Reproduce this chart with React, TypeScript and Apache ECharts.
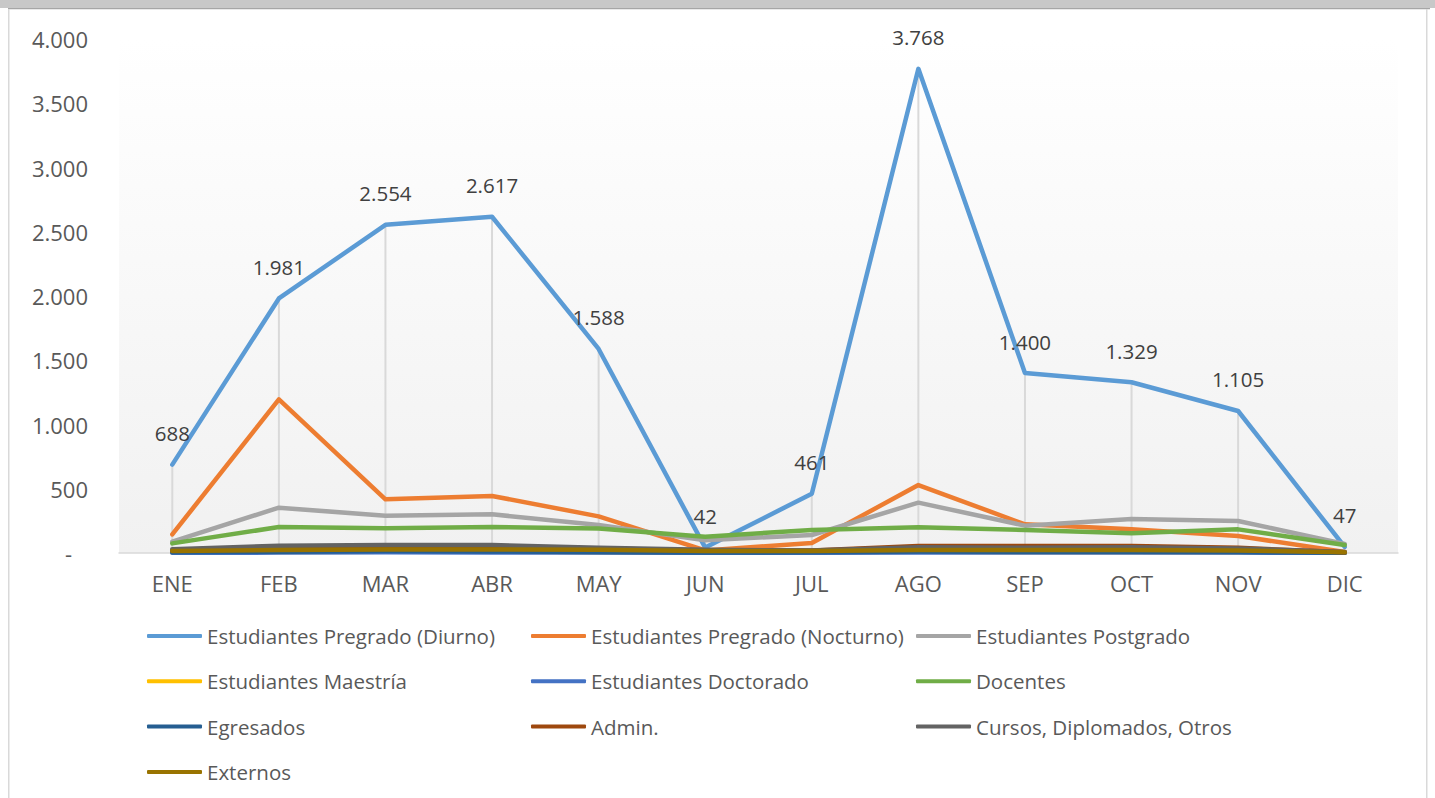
import React, { useEffect, useRef } from "react";
import * as echarts from "echarts";

const months = ["ENE", "FEB", "MAR", "ABR", "MAY", "JUN", "JUL", "AGO", "SEP", "OCT", "NOV", "DIC"];

const seriesNames = [
  "Estudiantes Pregrado (Diurno)",
  "Estudiantes Pregrado (Nocturno)",
  "Estudiantes Postgrado",
  "Estudiantes Maestría",
  "Estudiantes Doctorado",
  "Docentes",
  "Egresados",
  "Admin.",
  "Cursos, Diplomados, Otros",
  "Externos",
];

const diurno = [688, 1981, 2554, 2617, 1588, 42, 461, 3768, 1400, 1329, 1105, 47];
const nocturno = [145, 1196, 418, 444, 285, 20, 78, 529, 223, 184, 132, 8];
const postgrado = [88, 353, 290, 301, 218, 100, 140, 392, 213, 265, 249, 70];
const maestria = [4, 8, 10, 10, 6, 2, 3, 10, 6, 6, 5, 1];
const doctorado = [2, 3, 5, 4, 3, 1, 2, 4, 3, 3, 3, 1];
const docentes = [75, 202, 192, 202, 190, 127, 179, 200, 179, 153, 184, 62];
const egresados = [5, 10, 15, 12, 8, 3, 5, 12, 10, 10, 8, 2];
const admin = [20, 35, 40, 40, 35, 20, 20, 54, 55, 55, 40, 5];
const cursos = [30, 57, 62, 62, 40, 25, 20, 45, 40, 45, 35, 8];
const externos = [15, 23, 28, 28, 25, 15, 15, 23, 23, 23, 20, 5];

const yTicks = [0, 500, 1000, 1500, 2000, 2500, 3000, 3500, 4000];

const allData = [diurno, nocturno, postgrado, maestria, doctorado, docentes, egresados, admin, cursos, externos];
const colors = ["#5B9BD5", "#ED7D31", "#A5A5A5", "#FFC000", "#4472C4", "#70AD47", "#255E91", "#9E480E", "#636363", "#997300"];

const FONT = "Open Sans";
const AXIS_FS = 22;
const LEG_FS = 20.5;

function fmt(n: number): string {
  return String(n).replace(/\B(?=(\d{3})+(?!\d))/g, ".");
}

export default function App() {
  const ref = useRef<HTMLDivElement>(null);
  useEffect(() => {
    if (!ref.current) return;
    const chart = echarts.init(ref.current, undefined, { renderer: "svg" });
    const dropMax = months.map((_, i) => Math.max(...allData.map((d) => d[i])));
    const lineSeries = seriesNames.map((name, k) => ({
      name,
      type: "line",
      data: allData[k],
      symbol: k === 0 ? "circle" : "none",
      symbolSize: 0.1,
      showSymbol: k === 0,
      z: 3 + k,
      lineStyle: { width: 4.5, color: colors[k], cap: "round", join: "round" },
      itemStyle: { color: colors[k], opacity: k === 0 ? 0 : 1 },
      label:
        k === 0
          ? {
              show: true,
              position: "top",
              distance: 21,
              fontFamily: FONT,
              fontSize: LEG_FS,
              color: "#404040",
              opacity: 1,
              formatter: (p: any) => fmt(p.value),
            }
          : { show: false },
    }));
    const legendCols = [
      { left: 142, items: [0, 3, 6, 9] },
      { left: 526, items: [1, 4, 7] },
      { left: 911, items: [2, 5, 8] },
    ];
    const option: any = {
      animation: false,
      backgroundColor: "#ffffff",
      graphic: [
        { type: "rect", shape: { x: 0, y: 0, width: 1435, height: 8 }, style: { fill: "#c8c8c8" }, silent: true },
        { type: "rect", shape: { x: 8, y: 8, width: 1422, height: 1.2 }, style: { fill: "#a6a6a6" }, silent: true },
        { type: "rect", shape: { x: 8, y: 9, width: 1.5, height: 789 }, style: { fill: "#d9d9d9" }, silent: true },
        { type: "rect", shape: { x: 1426, y: 9, width: 1.5, height: 789 }, style: { fill: "#d9d9d9" }, silent: true },
      ],
      grid: {
        left: 119,
        top: 39,
        width: 1279,
        height: 514,
        show: true,
        borderWidth: 0,
        backgroundColor: new echarts.graphic.LinearGradient(0, 0, 0, 1, [
          { offset: 0, color: "#ffffff" },
          { offset: 1, color: "#f1f1f1" },
        ]),
      },
      legend: legendCols.map((c) => ({
        orient: "vertical",
        left: c.left,
        top: 619,
        itemWidth: 55,
        itemHeight: 4,
        itemGap: 21.3,
        icon: "roundRect",
        data: c.items.map((i) => ({
          name: seriesNames[i],
          icon: "roundRect",
          itemStyle: { color: colors[i], opacity: 1 },
        })),
        textStyle: { fontFamily: FONT, fontSize: LEG_FS, color: "#595959", lineHeight: 24 },
        selectedMode: false,
      })),
      xAxis: {
        type: "category",
        data: months,
        boundaryGap: true,
        axisLine: { show: true, lineStyle: { color: "#d9d9d9", width: 1.5 } },
        axisTick: { show: false },
        axisLabel: { fontFamily: FONT, fontSize: AXIS_FS, color: "#595959", margin: 19 },
        splitLine: { show: false },
      },
      yAxis: {
        type: "value",
        min: yTicks[0],
        max: yTicks[yTicks.length - 1],
        interval: yTicks[1] - yTicks[0],
        axisLine: { show: false },
        axisTick: { show: false },
        splitLine: { show: false },
        axisLabel: {
          fontFamily: FONT,
          fontSize: AXIS_FS,
          color: "#595959",
          margin: 31,
          formatter: (v: number) => (v === 0 ? "{d|-}" : fmt(v)),
          rich: { d: { fontFamily: FONT, fontSize: AXIS_FS, color: "#595959", padding: [0, 16, 0, 0] } },
        },
      },
      series: [
        {
          name: "drop",
          type: "bar",
          data: dropMax,
          barWidth: 2,
          z: 1,
          silent: true,
          itemStyle: { color: "#d9d9d9" },
          label: { show: false },
        },
        ...lineSeries,
      ],
    };
    chart.setOption(option);
    return () => chart.dispose();
  }, []);
  return (
    <div
      ref={ref}
      style={{ position: "fixed", left: 0, top: 0, width: 1435, height: 798 }}
    />
  );
}
